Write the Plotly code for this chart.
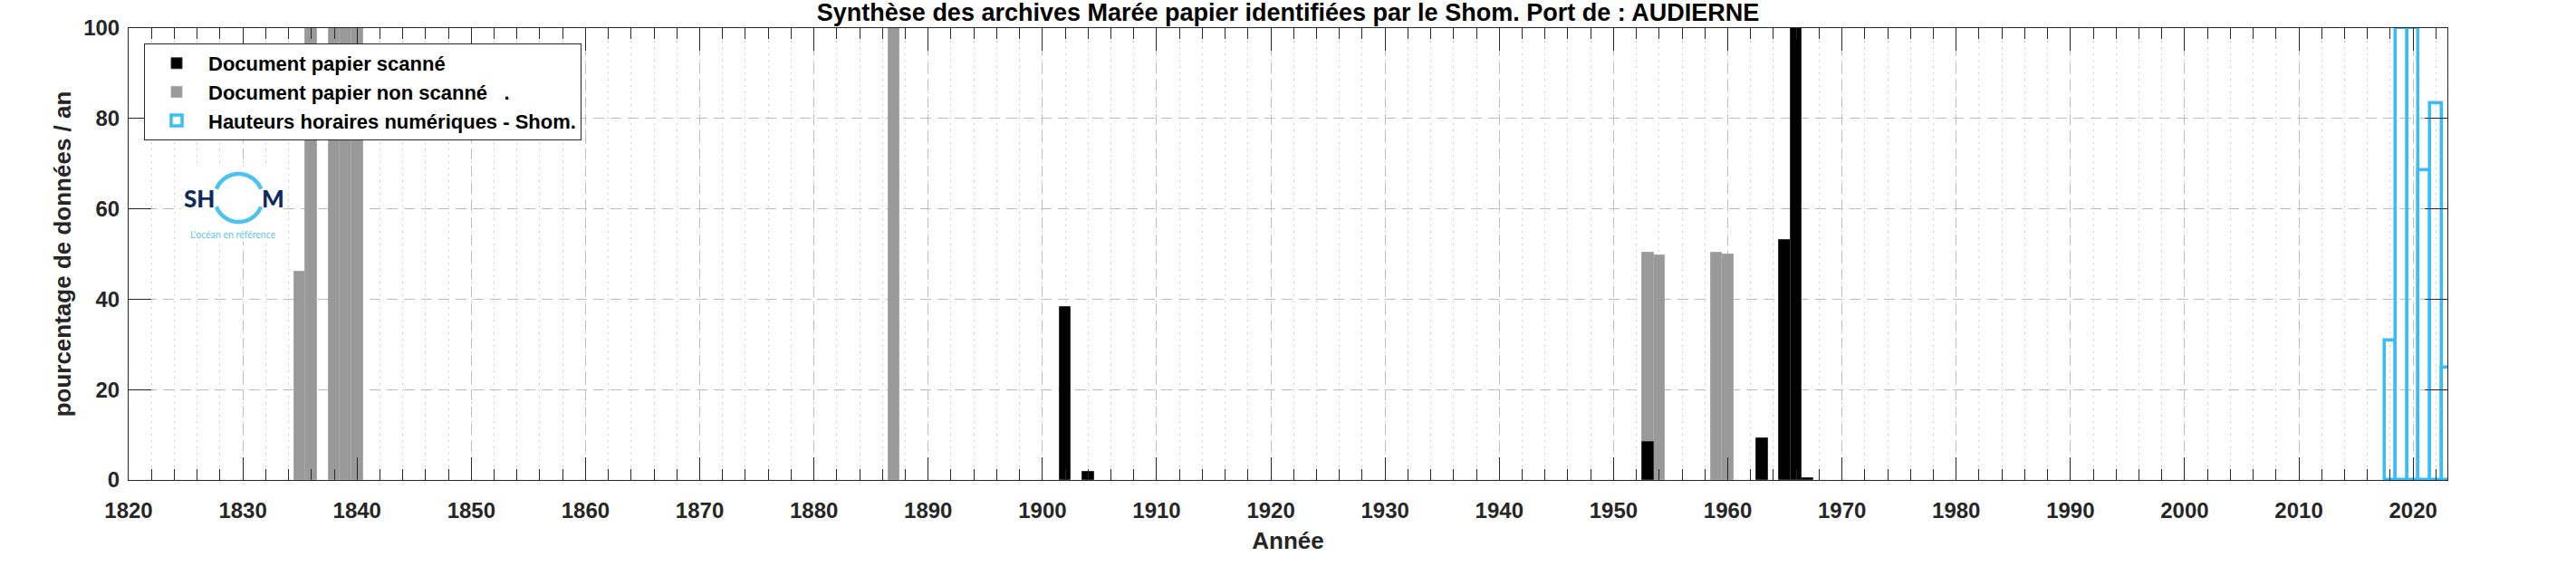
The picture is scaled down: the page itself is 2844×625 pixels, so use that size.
import numpy as np
import plotly.graph_objects as go

# ---------------- data ----------------
years_scanned = [1902, 1904, 1953, 1963, 1965, 1966, 1967]
pct_scanned = [38.3, 1.8, 8.4, 9.3, 53.1, 100, 0.5]

years_nonscanned = [1835, 1836, 1838, 1839, 1840, 1887, 1953, 1954, 1959, 1960]
pct_nonscanned = [46, 100, 100, 100, 100, 100, 50.3, 49.8, 50.3, 49.9]

years_numeric = [2018, 2019, 2020, 2021, 2022, 2023]
pct_numeric = [30.8, 100, 100, 68.5, 83.4, 24.8]

x_ticks = list(range(1820, 2021, 10))
y_ticks = [0, 20, 40, 60, 80, 100]

title_text = "Synthèse des archives Marée papier identifiées par le Shom. Port de : AUDIERNE"
name_scanned = "Document papier scanné"
name_nonscanned = "Document papier non scanné\u00a0\u00a0\u00a0."
name_numeric = "Hauteurs horaires numériques - Shom."

# ---------------- figure ----------------
W, H = 2844, 625
ML, MR, MT, MB = 142, 142, 31, 95
PW, PH = W - ML - MR, H - MT - MB

FONT = "Liberation Sans, Arial, sans-serif"
AXC = "#262626"

fig = go.Figure()
fig.add_trace(go.Bar(x=years_nonscanned, y=pct_nonscanned, width=1, name=name_nonscanned,
                     marker=dict(color="#999999", line=dict(color="#a8a8a8", width=1)),
                     legendrank=2))
fig.add_trace(go.Bar(x=years_scanned, y=pct_scanned, width=1, name=name_scanned,
                     marker=dict(color="#000000", line=dict(color="#333333", width=1)),
                     legendrank=1))
fig.add_trace(go.Bar(x=years_numeric, y=pct_numeric, width=1, name=name_numeric,
                     marker=dict(color="rgba(255,255,255,0)", line=dict(color="#38bdfb", width=3.5)),
                     legendrank=3))

fig.update_layout(
    width=W, height=H, autosize=False,
    margin=dict(l=ML, r=MR, t=MT, b=MB),
    paper_bgcolor="white", plot_bgcolor="white",
    barmode="overlay", bargap=0,
    font=dict(family=FONT, size=24, color=AXC),
    title=dict(text=title_text, x=0.5, xref="paper", xanchor="center",
               y=1 - 14 / H, yref="container", yanchor="middle",
               font=dict(family=FONT, size=27, color="black", weight="bold")),
    legend=dict(x=(159 - ML) / PW, y=(MT + PH - 48) / PH, xanchor="left", yanchor="top",
                bgcolor="white", bordercolor=AXC, borderwidth=1,
                font=dict(family=FONT, size=22, color="black", weight="bold"),
                traceorder="normal", itemwidth=60),
    showlegend=True,
)

fig.update_xaxes(
    range=[1820, 2023], tickvals=x_ticks, ticktext=[str(v) for v in x_ticks],
    ticks="inside", ticklen=25, tickwidth=1, tickcolor=AXC,
    showline=True, linecolor=AXC, linewidth=1, mirror="ticks",
    showgrid=True, gridcolor="#bdbdbd", gridwidth=1, griddash="12px,7px",
    zeroline=False,
    tickfont=dict(family=FONT, size=24, color=AXC, weight="bold"),
    ticklabelstandoff=12,
    minor=dict(dtick=2, tick0=1820, ticks="inside", ticklen=12, tickwidth=1, tickcolor=AXC,
               showgrid=True, gridcolor="#cfcfcf", gridwidth=1, griddash="2px,5px"),
    title=dict(text="Année", standoff=12,
               font=dict(family=FONT, size=26, color=AXC, weight="bold")),
)
fig.update_yaxes(
    range=[0, 100], tickvals=y_ticks,
    ticks="inside", ticklen=25, tickwidth=1, tickcolor=AXC,
    showline=True, linecolor=AXC, linewidth=1, mirror="ticks",
    showgrid=True, gridcolor="#bdbdbd", gridwidth=1, griddash="12px,7px",
    zeroline=False,
    tickfont=dict(family=FONT, size=24, color=AXC, weight="bold"),
    ticklabelstandoff=4,
    title=dict(text="pourcentage de données / an", standoff=6,
               font=dict(family=FONT, size=26, color=AXC, weight="bold")),
)

# ---------------- SHOM logo (decoration) ----------------
def px2paper(px, py):
    return (px - ML) / PW, (MT + PH - py) / PH

x0, y0 = px2paper(200, 184)
x1, y1 = px2paper(312, 267)
fig.add_shape(type="rect", xref="paper", yref="paper", x0=x0, y0=y1, x1=x1, y1=y0,
              fillcolor="white", line=dict(width=0), layer="above")

cx, cy, r = 263.5, 218.5, 26.5
def arc_path(a0, a1, n=40):
    pts = []
    for a in np.linspace(np.radians(a0), np.radians(a1), n):
        pts.append(px2paper(cx + r * np.cos(a), cy - r * np.sin(a)))
    return "M" + " L".join(f"{p[0]:.6f},{p[1]:.6f}" for p in pts)

for a0, a1 in [(22, 158), (202, 338)]:
    fig.add_shape(type="path", xref="paper", yref="paper", path=arc_path(a0, a1),
                  line=dict(color="#4cc2ee", width=4.5), layer="above")

sx, sy = px2paper(239, 219)
fig.add_annotation(x=sx, y=sy, xref="paper", yref="paper", text="SH", showarrow=False,
                   xanchor="right", yanchor="middle",
                   font=dict(family="Lato, sans-serif", size=26, color="#0d2b5e", weight=900))
mx, my = px2paper(287, 219)
fig.add_annotation(x=mx, y=my, xref="paper", yref="paper", text="M", showarrow=False,
                   xanchor="left", yanchor="middle",
                   font=dict(family="Lato, sans-serif", size=26, color="#0d2b5e", weight=900))
tx, ty = px2paper(257, 259)
fig.add_annotation(x=tx, y=ty, xref="paper", yref="paper", text="L'océan en référence",
                   showarrow=False, xanchor="center", yanchor="middle",
                   font=dict(family="Lato, sans-serif", size=10.5, color="#5cc6f0"))

fig.write_html("out.html", config={"displayModeBar": False},
               post_script="document.body.style.margin='0';document.body.style.overflow='hidden';")
